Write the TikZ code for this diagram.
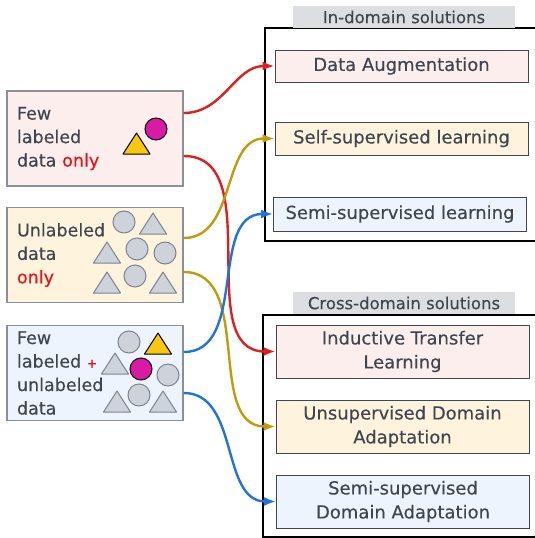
\documentclass[tikz,border=0pt]{standalone}
\usepackage{fontspec}
\setmainfont{DejaVu Sans}[FakeBold=0.3]
\usepackage{xcolor}
\usetikzlibrary{arrows.meta,positioning}
\definecolor{textgray}{HTML}{3F4652}
\definecolor{boxgray}{HTML}{8A8F99}
\definecolor{fewpink}{HTML}{FDEEEE}
\definecolor{unlyellow}{HTML}{FEF3DC}
\definecolor{mixblue}{HTML}{EEF4FD}
\definecolor{headgray}{HTML}{DCDEE2}
\definecolor{onlyred}{HTML}{E8121A}
\definecolor{arrred}{HTML}{E01E1E}
\definecolor{arrgold}{HTML}{C29B0C}
\definecolor{arrblue}{HTML}{1F73DE}
\definecolor{dotmagenta}{HTML}{D81AA5}
\definecolor{triyellow}{HTML}{F8C70F}
\definecolor{shapegray}{HTML}{CED2DA}
\definecolor{shapeedge}{HTML}{7D8391}
\tikzset{srcbox/.style={draw=boxgray,line width=1.5pt,minimum width=176pt,
                        minimum height=95pt,text width=156pt,align=left,
                        inner sep=0pt,text=textgray,
                        font=\fontsize{17.5}{23.5}\selectfont}}
\tikzset{solbox/.style={draw=textgray,line width=0.8pt,minimum width=253pt,
                        align=center,inner sep=0pt,text=textgray,
                        font=\fontsize{18}{24}\selectfont}}
\tikzset{header/.style={fill=headgray,minimum width=222pt,minimum height=22pt,
                        inner sep=0pt,text=textgray,font=\fontsize{16.5}{18}\selectfont}}
\tikzset{frame/.style={draw=black,line width=1.2pt}}
\tikzset{link/.style={line width=2.4pt,-{Latex[length=12pt,width=9pt]}}}
\tikzset{labeled/.style={draw=black,line width=1pt}}
\tikzset{unlabeled/.style={draw=shapeedge,fill=shapegray,line width=1pt}}
\newcommand{\datatri}[3]{\draw[#1,line join=round] (#2,#3) ++(-13.5,0)
                                -- ++(27,0) -- ++(-13.5,-21) -- cycle;}
\newcommand{\datadot}[3]{\draw[#1] (#2,#3) circle (11pt);}
\begin{document}
\begin{tikzpicture}[x=1pt,y=-1pt]
    \useasboundingbox (0,0) rectangle (535,538);
    % Data boxes
    \node[srcbox,fill=fewpink] (few) at (95,138.5)
        {Few\\labeled\\data \textcolor{onlyred}{only}};
    \node[srcbox,fill=unlyellow] (unl) at (95,255)
        {Unlabeled\\data\\\textcolor{onlyred}{only}};
    \node[srcbox,fill=mixblue] (mix) at (95,373)
        {Few\\labeled \textcolor{onlyred}{\fontsize{12}{12}\selectfont\bfseries +}\\unlabeled\\data};
    % Samples inside the data boxes
    \datatri{labeled,fill=triyellow}{136.5}{154}
    \datadot{labeled,fill=dotmagenta}{156}{129}
    \foreach \cx/\cy in {124/222,137/249,165/253,135/276,129/342,168/375,139/395}{
        \datadot{unlabeled}{\cx}{\cy}
    }
    \foreach \tx/\ty in {153/234,107/263,107/293,163/293,115/374,117/412,163/412}{
        \datatri{unlabeled}{\tx}{\ty}
    }
    \datatri{labeled,fill=triyellow}{158}{354}
    \datadot{labeled,fill=dotmagenta}{141}{369}
    % In-domain solutions
    \draw[frame] (545,28) -- (265,28) -- (265,241) -- (545,241);
    \node[header] (inhead) at (404,17) {In-domain solutions};
    \node[solbox,fill=fewpink,minimum height=32pt] (aug) at (401.5,66)
        {Data Augmentation};
    \node[solbox,fill=unlyellow,minimum height=33pt] (selfsup) at (401.5,138.5)
        {Self-supervised learning};
    \node[solbox,fill=mixblue,minimum height=34pt] (semisup) at (400,214)
        {Semi-supervised learning};
    % Cross-domain solutions
    \draw[frame] (545,315) -- (263,315) -- (263,537) -- (545,537);
    \node[header] (crosshead) at (404,303) {Cross-domain solutions};
    \node[solbox,fill=fewpink,minimum height=53pt] (itl) at (402.5,351.5)
        {Inductive Transfer\\Learning};
    \node[solbox,fill=unlyellow,minimum height=53pt] (uda) at (402.5,426.5)
        {Unsupervised Domain\\Adaptation};
    \node[solbox,fill=mixblue,minimum height=53pt] (ssda) at (403,501.5)
        {Semi-supervised\\Domain Adaptation};
    % Links from data to solutions
    \draw[link,arrred] ([yshift=25.5pt]few.east) to[out=0,in=180] (aug.west);
    \draw[link,arrred] ([yshift=-17.5pt]few.east) to[out=0,in=180] (itl.west);
    \draw[link,arrgold] ([yshift=17pt]unl.east) to[out=0,in=180] (selfsup.west);
    \draw[link,arrgold] ([yshift=-17pt]unl.east) to[out=0,in=180] (uda.west);
    \draw[link,arrblue] ([yshift=21pt]mix.east) to[out=0,in=180] (semisup.west);
    \draw[link,arrblue] ([yshift=-20pt]mix.east) to[out=0,in=180] (ssda.west);
\end{tikzpicture}
\end{document}
